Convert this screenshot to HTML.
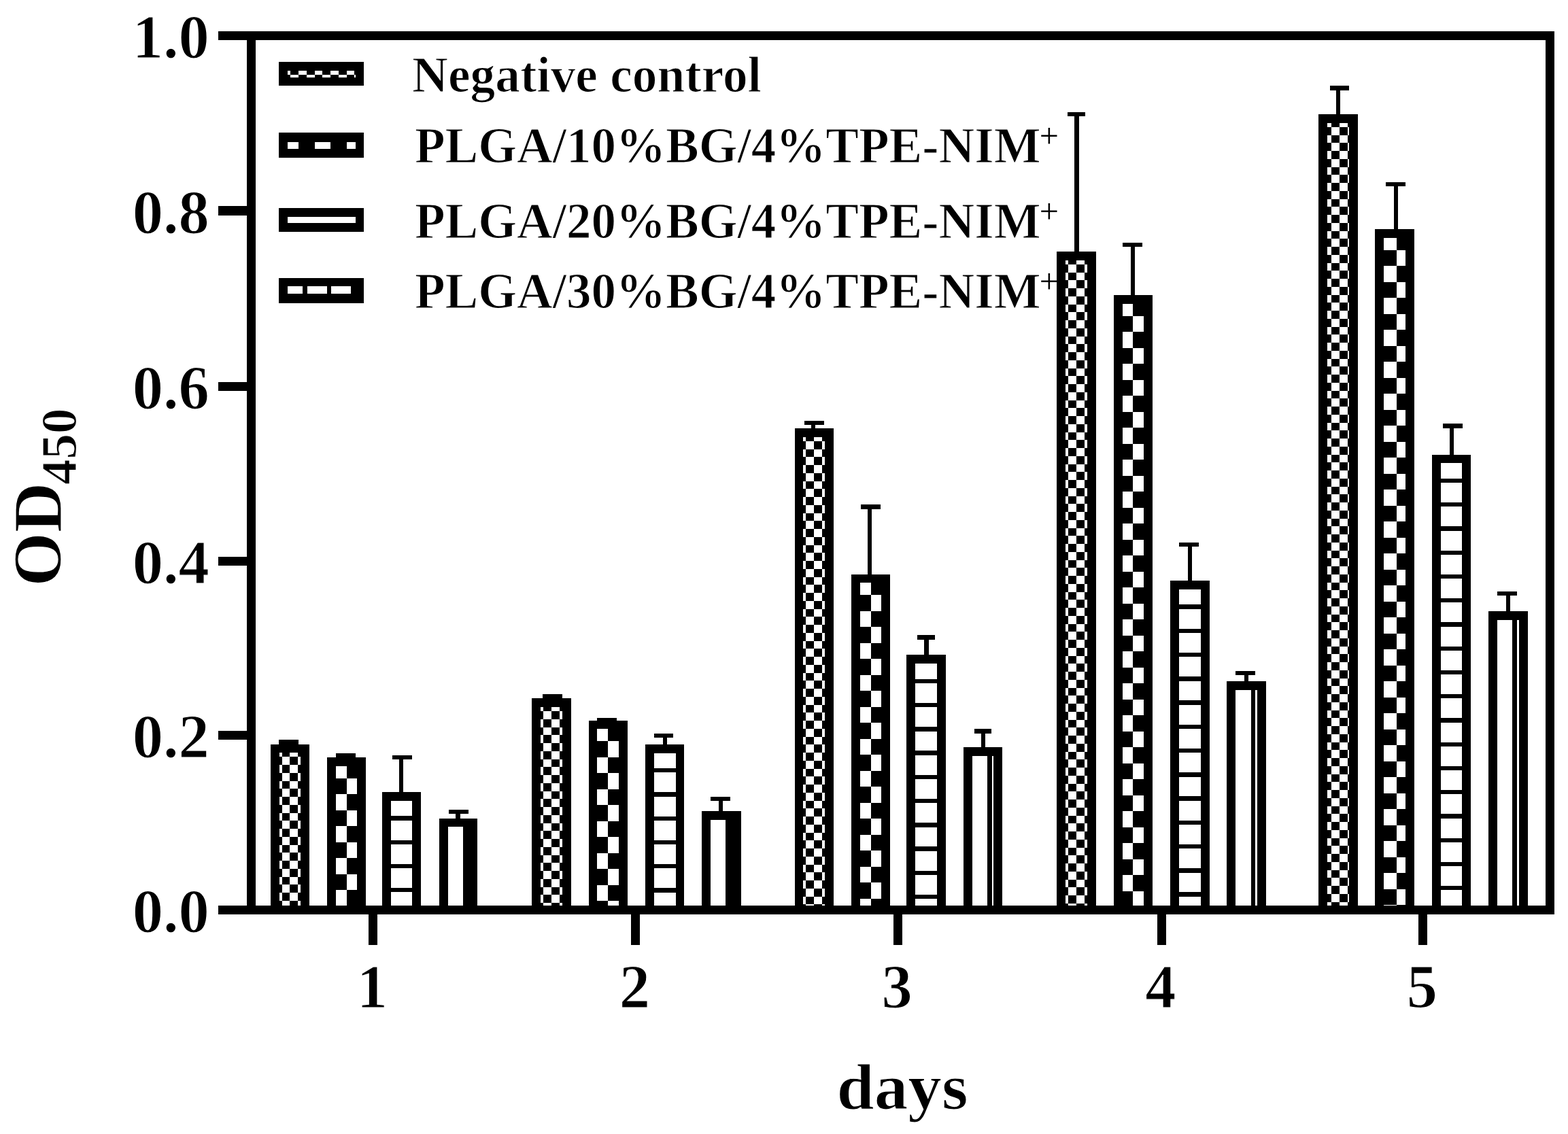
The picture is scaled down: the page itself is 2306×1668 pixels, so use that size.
<!DOCTYPE html>
<html lang="en">
<head>
<meta charset="utf-8">
<title>OD450 vs days</title>
<style>
html,body{margin:0;padding:0;background:#fff;}
body{width:2306px;height:1668px;overflow:hidden;}
svg{display:block;}
text{font-family:"Liberation Serif","DejaVu Serif",serif;font-weight:bold;fill:#000;stroke:#fff;stroke-width:1.2px;paint-order:fill stroke;}
tspan.p{stroke:none;}
</style>
</head>
<body>
<svg width="2306" height="1668" viewBox="0 0 2306 1668" shape-rendering="crispEdges">
<rect width="2306" height="1668" fill="#fff"/>
<g fill="#000">
<rect x="320.7" y="46.3" width="1965.1" height="12.5"/>
<rect x="320.7" y="1332" width="1965.1" height="12.5"/>
<rect x="363" y="46.3" width="13.3" height="1298.2"/>
<rect x="2272.8" y="46.3" width="13" height="1298.2"/>
<rect x="320.7" y="303.4" width="50" height="14"/>
<rect x="320.7" y="562.3" width="50" height="12.6"/>
<rect x="320.7" y="818.9" width="50" height="12.6"/>
<rect x="320.7" y="1075.3" width="50" height="12.6"/>
<rect x="542.2" y="1340" width="12.8" height="49.5"/>
<rect x="928.2" y="1340" width="12.8" height="49.5"/>
<rect x="1313.9" y="1340" width="12.8" height="49.5"/>
<rect x="1701.8" y="1340" width="12.8" height="49.5"/>
<rect x="2086.3" y="1340" width="12.8" height="49.5"/>
<rect x="410.3" y="1088" width="28.7" height="7.6"/>
<rect x="421.45" y="1088" width="6.4" height="8.6"/>
<g>
<rect x="397.9" y="1094.6" width="56.9" height="249.4"/>
<rect x="410.7" y="1107.4" width="31.3" height="224.6" fill="#fff"/>
<path d="M414.6 1107.4h11.75v5.95h-11.75zM438.1 1107.4h3.9v5.95h-3.9zM410.7 1113.35h3.9v11.75h-3.9zM426.35 1113.35h11.75v11.75h-11.75zM414.6 1125.1h11.75v11.75h-11.75zM438.1 1125.1h3.9v11.75h-3.9zM410.7 1136.85h3.9v11.75h-3.9zM426.35 1136.85h11.75v11.75h-11.75zM414.6 1148.6h11.75v11.75h-11.75zM438.1 1148.6h3.9v11.75h-3.9zM410.7 1160.35h3.9v11.75h-3.9zM426.35 1160.35h11.75v11.75h-11.75zM414.6 1172.1h11.75v11.75h-11.75zM438.1 1172.1h3.9v11.75h-3.9zM410.7 1183.85h3.9v11.75h-3.9zM426.35 1183.85h11.75v11.75h-11.75zM414.6 1195.6h11.75v11.75h-11.75zM438.1 1195.6h3.9v11.75h-3.9zM410.7 1207.35h3.9v11.75h-3.9zM426.35 1207.35h11.75v11.75h-11.75zM414.6 1219.1h11.75v11.75h-11.75zM438.1 1219.1h3.9v11.75h-3.9zM410.7 1230.85h3.9v11.75h-3.9zM426.35 1230.85h11.75v11.75h-11.75zM414.6 1242.6h11.75v11.75h-11.75zM438.1 1242.6h3.9v11.75h-3.9zM410.7 1254.35h3.9v11.75h-3.9zM426.35 1254.35h11.75v11.75h-11.75zM414.6 1266.1h11.75v11.75h-11.75zM438.1 1266.1h3.9v11.75h-3.9zM410.7 1277.85h3.9v11.75h-3.9zM426.35 1277.85h11.75v11.75h-11.75zM414.6 1289.6h11.75v11.75h-11.75zM438.1 1289.6h3.9v11.75h-3.9zM410.7 1301.35h3.9v11.75h-3.9zM426.35 1301.35h11.75v11.75h-11.75zM414.6 1313.1h11.75v11.75h-11.75zM438.1 1313.1h3.9v11.75h-3.9zM410.7 1324.85h3.9v7.15h-3.9zM426.35 1324.85h11.75v7.15h-11.75z"/>
</g>
<rect x="493.8" y="1107.7" width="28.7" height="7.5"/>
<rect x="504.95" y="1107.7" width="6.4" height="8.5"/>
<g>
<rect x="481.2" y="1114.2" width="57" height="229.8"/>
<rect x="494" y="1127" width="31.4" height="205" fill="#fff"/>
<path d="M509.7 1127h15.7v17.7h-15.7zM494 1144.7h15.7v23.5h-15.7zM509.7 1168.2h15.7v23.5h-15.7zM494 1191.7h15.7v23.5h-15.7zM509.7 1215.2h15.7v23.5h-15.7zM494 1238.7h15.7v23.5h-15.7zM509.7 1262.2h15.7v23.5h-15.7zM494 1285.7h15.7v23.5h-15.7zM509.7 1309.2h15.7v22.8h-15.7z"/>
</g>
<rect x="576.9" y="1110.7" width="28.7" height="6.4"/>
<rect x="586.9" y="1110.7" width="6.4" height="56.3"/>
<g>
<rect x="562" y="1165" width="57" height="179"/>
<rect x="574.8" y="1177.8" width="31.4" height="154.2" fill="#fff"/>
<path d="M574.8 1200.25h31.4v6.4h-31.4zM574.8 1235.5h31.4v6.4h-31.4zM574.8 1270.75h31.4v6.4h-31.4zM574.8 1306h31.4v6.4h-31.4z"/>
</g>
<rect x="660.4" y="1191" width="28.7" height="6.4"/>
<rect x="670.1" y="1191" width="6.4" height="14.5"/>
<g>
<rect x="646" y="1203.5" width="56.2" height="140.5"/>
<rect x="658.8" y="1216.3" width="30.6" height="115.7" fill="#fff"/>
<path d="M681.25 1216.3h8.15v115.7h-8.15z"/>
</g>
<rect x="798.2" y="1021" width="28.7" height="7.4"/>
<rect x="809.35" y="1021" width="6.4" height="8.4"/>
<g>
<rect x="782" y="1027.4" width="57.6" height="316.6"/>
<rect x="794.8" y="1040.2" width="32" height="291.8" fill="#fff"/>
<path d="M799.05 1040.2h11.75v5.95h-11.75zM822.55 1040.2h4.25v5.95h-4.25zM794.8 1046.15h4.25v11.75h-4.25zM810.8 1046.15h11.75v11.75h-11.75zM799.05 1057.9h11.75v11.75h-11.75zM822.55 1057.9h4.25v11.75h-4.25zM794.8 1069.65h4.25v11.75h-4.25zM810.8 1069.65h11.75v11.75h-11.75zM799.05 1081.4h11.75v11.75h-11.75zM822.55 1081.4h4.25v11.75h-4.25zM794.8 1093.15h4.25v11.75h-4.25zM810.8 1093.15h11.75v11.75h-11.75zM799.05 1104.9h11.75v11.75h-11.75zM822.55 1104.9h4.25v11.75h-4.25zM794.8 1116.65h4.25v11.75h-4.25zM810.8 1116.65h11.75v11.75h-11.75zM799.05 1128.4h11.75v11.75h-11.75zM822.55 1128.4h4.25v11.75h-4.25zM794.8 1140.15h4.25v11.75h-4.25zM810.8 1140.15h11.75v11.75h-11.75zM799.05 1151.9h11.75v11.75h-11.75zM822.55 1151.9h4.25v11.75h-4.25zM794.8 1163.65h4.25v11.75h-4.25zM810.8 1163.65h11.75v11.75h-11.75zM799.05 1175.4h11.75v11.75h-11.75zM822.55 1175.4h4.25v11.75h-4.25zM794.8 1187.15h4.25v11.75h-4.25zM810.8 1187.15h11.75v11.75h-11.75zM799.05 1198.9h11.75v11.75h-11.75zM822.55 1198.9h4.25v11.75h-4.25zM794.8 1210.65h4.25v11.75h-4.25zM810.8 1210.65h11.75v11.75h-11.75zM799.05 1222.4h11.75v11.75h-11.75zM822.55 1222.4h4.25v11.75h-4.25zM794.8 1234.15h4.25v11.75h-4.25zM810.8 1234.15h11.75v11.75h-11.75zM799.05 1245.9h11.75v11.75h-11.75zM822.55 1245.9h4.25v11.75h-4.25zM794.8 1257.65h4.25v11.75h-4.25zM810.8 1257.65h11.75v11.75h-11.75zM799.05 1269.4h11.75v11.75h-11.75zM822.55 1269.4h4.25v11.75h-4.25zM794.8 1281.15h4.25v11.75h-4.25zM810.8 1281.15h11.75v11.75h-11.75zM799.05 1292.9h11.75v11.75h-11.75zM822.55 1292.9h4.25v11.75h-4.25zM794.8 1304.65h4.25v11.75h-4.25zM810.8 1304.65h11.75v11.75h-11.75zM799.05 1316.4h11.75v11.75h-11.75zM822.55 1316.4h4.25v11.75h-4.25zM794.8 1328.15h4.25v3.85h-4.25zM810.8 1328.15h11.75v3.85h-11.75z"/>
</g>
<rect x="878.4" y="1056.2" width="28.7" height="6.4"/>
<rect x="889.55" y="1056.2" width="6.4" height="5.3"/>
<g>
<rect x="865.5" y="1059.5" width="57.4" height="284.5"/>
<rect x="878.3" y="1072.3" width="31.8" height="259.7" fill="#fff"/>
<path d="M894.2 1072.3h15.9v17.7h-15.9zM878.3 1090h15.9v23.5h-15.9zM894.2 1113.5h15.9v23.5h-15.9zM878.3 1137h15.9v23.5h-15.9zM894.2 1160.5h15.9v23.5h-15.9zM878.3 1184h15.9v23.5h-15.9zM894.2 1207.5h15.9v23.5h-15.9zM878.3 1231h15.9v23.5h-15.9zM894.2 1254.5h15.9v23.5h-15.9zM878.3 1278h15.9v23.5h-15.9zM894.2 1301.5h15.9v23.5h-15.9zM878.3 1325h15.9v7h-15.9z"/>
</g>
<rect x="961.6" y="1078.7" width="28.7" height="6.4"/>
<rect x="974.7" y="1078.7" width="6.4" height="18.1"/>
<g>
<rect x="949" y="1094.8" width="57.4" height="249.2"/>
<rect x="961.8" y="1107.6" width="31.8" height="224.4" fill="#fff"/>
<path d="M961.8 1130.05h31.8v6.4h-31.8zM961.8 1165.3h31.8v6.4h-31.8zM961.8 1200.55h31.8v6.4h-31.8zM961.8 1235.8h31.8v6.4h-31.8zM961.8 1271.05h31.8v6.4h-31.8zM961.8 1306.3h31.8v6.4h-31.8z"/>
</g>
<rect x="1044.8" y="1171.7" width="28.7" height="6.4"/>
<rect x="1056.5" y="1171.7" width="6.4" height="23.3"/>
<g>
<rect x="1032.1" y="1193" width="57.4" height="151"/>
<rect x="1044.9" y="1205.8" width="31.8" height="126.2" fill="#fff"/>
<path d="M1067.35 1205.8h9.35v126.2h-9.35z"/>
</g>
<rect x="1183" y="618.8" width="28.7" height="6.4"/>
<rect x="1192.5" y="618.8" width="6.4" height="13.2"/>
<g>
<rect x="1168.5" y="630" width="57.3" height="714"/>
<rect x="1181.3" y="642.8" width="31.7" height="689.2" fill="#fff"/>
<path d="M1185.4 642.8h11.75v5.95h-11.75zM1208.9 642.8h4.1v5.95h-4.1zM1181.3 648.75h4.1v11.75h-4.1zM1197.15 648.75h11.75v11.75h-11.75zM1185.4 660.5h11.75v11.75h-11.75zM1208.9 660.5h4.1v11.75h-4.1zM1181.3 672.25h4.1v11.75h-4.1zM1197.15 672.25h11.75v11.75h-11.75zM1185.4 684h11.75v11.75h-11.75zM1208.9 684h4.1v11.75h-4.1zM1181.3 695.75h4.1v11.75h-4.1zM1197.15 695.75h11.75v11.75h-11.75zM1185.4 707.5h11.75v11.75h-11.75zM1208.9 707.5h4.1v11.75h-4.1zM1181.3 719.25h4.1v11.75h-4.1zM1197.15 719.25h11.75v11.75h-11.75zM1185.4 731h11.75v11.75h-11.75zM1208.9 731h4.1v11.75h-4.1zM1181.3 742.75h4.1v11.75h-4.1zM1197.15 742.75h11.75v11.75h-11.75zM1185.4 754.5h11.75v11.75h-11.75zM1208.9 754.5h4.1v11.75h-4.1zM1181.3 766.25h4.1v11.75h-4.1zM1197.15 766.25h11.75v11.75h-11.75zM1185.4 778h11.75v11.75h-11.75zM1208.9 778h4.1v11.75h-4.1zM1181.3 789.75h4.1v11.75h-4.1zM1197.15 789.75h11.75v11.75h-11.75zM1185.4 801.5h11.75v11.75h-11.75zM1208.9 801.5h4.1v11.75h-4.1zM1181.3 813.25h4.1v11.75h-4.1zM1197.15 813.25h11.75v11.75h-11.75zM1185.4 825h11.75v11.75h-11.75zM1208.9 825h4.1v11.75h-4.1zM1181.3 836.75h4.1v11.75h-4.1zM1197.15 836.75h11.75v11.75h-11.75zM1185.4 848.5h11.75v11.75h-11.75zM1208.9 848.5h4.1v11.75h-4.1zM1181.3 860.25h4.1v11.75h-4.1zM1197.15 860.25h11.75v11.75h-11.75zM1185.4 872h11.75v11.75h-11.75zM1208.9 872h4.1v11.75h-4.1zM1181.3 883.75h4.1v11.75h-4.1zM1197.15 883.75h11.75v11.75h-11.75zM1185.4 895.5h11.75v11.75h-11.75zM1208.9 895.5h4.1v11.75h-4.1zM1181.3 907.25h4.1v11.75h-4.1zM1197.15 907.25h11.75v11.75h-11.75zM1185.4 919h11.75v11.75h-11.75zM1208.9 919h4.1v11.75h-4.1zM1181.3 930.75h4.1v11.75h-4.1zM1197.15 930.75h11.75v11.75h-11.75zM1185.4 942.5h11.75v11.75h-11.75zM1208.9 942.5h4.1v11.75h-4.1zM1181.3 954.25h4.1v11.75h-4.1zM1197.15 954.25h11.75v11.75h-11.75zM1185.4 966h11.75v11.75h-11.75zM1208.9 966h4.1v11.75h-4.1zM1181.3 977.75h4.1v11.75h-4.1zM1197.15 977.75h11.75v11.75h-11.75zM1185.4 989.5h11.75v11.75h-11.75zM1208.9 989.5h4.1v11.75h-4.1zM1181.3 1001.25h4.1v11.75h-4.1zM1197.15 1001.25h11.75v11.75h-11.75zM1185.4 1013h11.75v11.75h-11.75zM1208.9 1013h4.1v11.75h-4.1zM1181.3 1024.75h4.1v11.75h-4.1zM1197.15 1024.75h11.75v11.75h-11.75zM1185.4 1036.5h11.75v11.75h-11.75zM1208.9 1036.5h4.1v11.75h-4.1zM1181.3 1048.25h4.1v11.75h-4.1zM1197.15 1048.25h11.75v11.75h-11.75zM1185.4 1060h11.75v11.75h-11.75zM1208.9 1060h4.1v11.75h-4.1zM1181.3 1071.75h4.1v11.75h-4.1zM1197.15 1071.75h11.75v11.75h-11.75zM1185.4 1083.5h11.75v11.75h-11.75zM1208.9 1083.5h4.1v11.75h-4.1zM1181.3 1095.25h4.1v11.75h-4.1zM1197.15 1095.25h11.75v11.75h-11.75zM1185.4 1107h11.75v11.75h-11.75zM1208.9 1107h4.1v11.75h-4.1zM1181.3 1118.75h4.1v11.75h-4.1zM1197.15 1118.75h11.75v11.75h-11.75zM1185.4 1130.5h11.75v11.75h-11.75zM1208.9 1130.5h4.1v11.75h-4.1zM1181.3 1142.25h4.1v11.75h-4.1zM1197.15 1142.25h11.75v11.75h-11.75zM1185.4 1154h11.75v11.75h-11.75zM1208.9 1154h4.1v11.75h-4.1zM1181.3 1165.75h4.1v11.75h-4.1zM1197.15 1165.75h11.75v11.75h-11.75zM1185.4 1177.5h11.75v11.75h-11.75zM1208.9 1177.5h4.1v11.75h-4.1zM1181.3 1189.25h4.1v11.75h-4.1zM1197.15 1189.25h11.75v11.75h-11.75zM1185.4 1201h11.75v11.75h-11.75zM1208.9 1201h4.1v11.75h-4.1zM1181.3 1212.75h4.1v11.75h-4.1zM1197.15 1212.75h11.75v11.75h-11.75zM1185.4 1224.5h11.75v11.75h-11.75zM1208.9 1224.5h4.1v11.75h-4.1zM1181.3 1236.25h4.1v11.75h-4.1zM1197.15 1236.25h11.75v11.75h-11.75zM1185.4 1248h11.75v11.75h-11.75zM1208.9 1248h4.1v11.75h-4.1zM1181.3 1259.75h4.1v11.75h-4.1zM1197.15 1259.75h11.75v11.75h-11.75zM1185.4 1271.5h11.75v11.75h-11.75zM1208.9 1271.5h4.1v11.75h-4.1zM1181.3 1283.25h4.1v11.75h-4.1zM1197.15 1283.25h11.75v11.75h-11.75zM1185.4 1295h11.75v11.75h-11.75zM1208.9 1295h4.1v11.75h-4.1zM1181.3 1306.75h4.1v11.75h-4.1zM1197.15 1306.75h11.75v11.75h-11.75zM1185.4 1318.5h11.75v11.75h-11.75zM1208.9 1318.5h4.1v11.75h-4.1zM1181.3 1330.25h4.1v1.75h-4.1zM1197.15 1330.25h11.75v1.75h-11.75z"/>
</g>
<rect x="1266" y="742.1" width="28.7" height="6.4"/>
<rect x="1275.7" y="742.1" width="6.4" height="104.5"/>
<g>
<rect x="1252" y="844.6" width="57.2" height="499.4"/>
<rect x="1264.8" y="857.4" width="31.6" height="474.6" fill="#fff"/>
<path d="M1280.6 857.4h15.8v17.7h-15.8zM1264.8 875.1h15.8v23.5h-15.8zM1280.6 898.6h15.8v23.5h-15.8zM1264.8 922.1h15.8v23.5h-15.8zM1280.6 945.6h15.8v23.5h-15.8zM1264.8 969.1h15.8v23.5h-15.8zM1280.6 992.6h15.8v23.5h-15.8zM1264.8 1016.1h15.8v23.5h-15.8zM1280.6 1039.6h15.8v23.5h-15.8zM1264.8 1063.1h15.8v23.5h-15.8zM1280.6 1086.6h15.8v23.5h-15.8zM1264.8 1110.1h15.8v23.5h-15.8zM1280.6 1133.6h15.8v23.5h-15.8zM1264.8 1157.1h15.8v23.5h-15.8zM1280.6 1180.6h15.8v23.5h-15.8zM1264.8 1204.1h15.8v23.5h-15.8zM1280.6 1227.6h15.8v23.5h-15.8zM1264.8 1251.1h15.8v23.5h-15.8zM1280.6 1274.6h15.8v23.5h-15.8zM1264.8 1298.1h15.8v23.5h-15.8zM1280.6 1321.6h15.8v10.4h-15.8z"/>
</g>
<rect x="1349.1" y="934.4" width="26.3" height="6.4"/>
<rect x="1359.2" y="934.4" width="6.4" height="31"/>
<g>
<rect x="1333.4" y="963.4" width="57.4" height="380.6"/>
<rect x="1346.2" y="976.2" width="31.8" height="355.8" fill="#fff"/>
<path d="M1346.2 998.65h31.8v6.4h-31.8zM1346.2 1033.9h31.8v6.4h-31.8zM1346.2 1069.15h31.8v6.4h-31.8zM1346.2 1104.4h31.8v6.4h-31.8zM1346.2 1139.65h31.8v6.4h-31.8zM1346.2 1174.9h31.8v6.4h-31.8zM1346.2 1210.15h31.8v6.4h-31.8zM1346.2 1245.4h31.8v6.4h-31.8zM1346.2 1280.65h31.8v6.4h-31.8zM1346.2 1315.9h31.8v6.4h-31.8z"/>
</g>
<rect x="1432.8" y="1072.3" width="25.3" height="6.4"/>
<rect x="1442.5" y="1072.3" width="6.4" height="29.1"/>
<g>
<rect x="1416.9" y="1099.4" width="57.1" height="244.6"/>
<rect x="1429.7" y="1112.2" width="31.5" height="219.8" fill="#fff"/>
<path d="M1452.15 1112.2h6.4v219.8h-6.4z"/>
</g>
<rect x="1570.4" y="164.8" width="25.6" height="6.4"/>
<rect x="1580.1" y="164.8" width="6.4" height="207.4"/>
<g>
<rect x="1554.4" y="370.2" width="57.4" height="973.8"/>
<rect x="1567.2" y="383" width="31.8" height="949" fill="#fff"/>
<path d="M1571.35 383h11.75v5.95h-11.75zM1594.85 383h4.15v5.95h-4.15zM1567.2 388.95h4.15v11.75h-4.15zM1583.1 388.95h11.75v11.75h-11.75zM1571.35 400.7h11.75v11.75h-11.75zM1594.85 400.7h4.15v11.75h-4.15zM1567.2 412.45h4.15v11.75h-4.15zM1583.1 412.45h11.75v11.75h-11.75zM1571.35 424.2h11.75v11.75h-11.75zM1594.85 424.2h4.15v11.75h-4.15zM1567.2 435.95h4.15v11.75h-4.15zM1583.1 435.95h11.75v11.75h-11.75zM1571.35 447.7h11.75v11.75h-11.75zM1594.85 447.7h4.15v11.75h-4.15zM1567.2 459.45h4.15v11.75h-4.15zM1583.1 459.45h11.75v11.75h-11.75zM1571.35 471.2h11.75v11.75h-11.75zM1594.85 471.2h4.15v11.75h-4.15zM1567.2 482.95h4.15v11.75h-4.15zM1583.1 482.95h11.75v11.75h-11.75zM1571.35 494.7h11.75v11.75h-11.75zM1594.85 494.7h4.15v11.75h-4.15zM1567.2 506.45h4.15v11.75h-4.15zM1583.1 506.45h11.75v11.75h-11.75zM1571.35 518.2h11.75v11.75h-11.75zM1594.85 518.2h4.15v11.75h-4.15zM1567.2 529.95h4.15v11.75h-4.15zM1583.1 529.95h11.75v11.75h-11.75zM1571.35 541.7h11.75v11.75h-11.75zM1594.85 541.7h4.15v11.75h-4.15zM1567.2 553.45h4.15v11.75h-4.15zM1583.1 553.45h11.75v11.75h-11.75zM1571.35 565.2h11.75v11.75h-11.75zM1594.85 565.2h4.15v11.75h-4.15zM1567.2 576.95h4.15v11.75h-4.15zM1583.1 576.95h11.75v11.75h-11.75zM1571.35 588.7h11.75v11.75h-11.75zM1594.85 588.7h4.15v11.75h-4.15zM1567.2 600.45h4.15v11.75h-4.15zM1583.1 600.45h11.75v11.75h-11.75zM1571.35 612.2h11.75v11.75h-11.75zM1594.85 612.2h4.15v11.75h-4.15zM1567.2 623.95h4.15v11.75h-4.15zM1583.1 623.95h11.75v11.75h-11.75zM1571.35 635.7h11.75v11.75h-11.75zM1594.85 635.7h4.15v11.75h-4.15zM1567.2 647.45h4.15v11.75h-4.15zM1583.1 647.45h11.75v11.75h-11.75zM1571.35 659.2h11.75v11.75h-11.75zM1594.85 659.2h4.15v11.75h-4.15zM1567.2 670.95h4.15v11.75h-4.15zM1583.1 670.95h11.75v11.75h-11.75zM1571.35 682.7h11.75v11.75h-11.75zM1594.85 682.7h4.15v11.75h-4.15zM1567.2 694.45h4.15v11.75h-4.15zM1583.1 694.45h11.75v11.75h-11.75zM1571.35 706.2h11.75v11.75h-11.75zM1594.85 706.2h4.15v11.75h-4.15zM1567.2 717.95h4.15v11.75h-4.15zM1583.1 717.95h11.75v11.75h-11.75zM1571.35 729.7h11.75v11.75h-11.75zM1594.85 729.7h4.15v11.75h-4.15zM1567.2 741.45h4.15v11.75h-4.15zM1583.1 741.45h11.75v11.75h-11.75zM1571.35 753.2h11.75v11.75h-11.75zM1594.85 753.2h4.15v11.75h-4.15zM1567.2 764.95h4.15v11.75h-4.15zM1583.1 764.95h11.75v11.75h-11.75zM1571.35 776.7h11.75v11.75h-11.75zM1594.85 776.7h4.15v11.75h-4.15zM1567.2 788.45h4.15v11.75h-4.15zM1583.1 788.45h11.75v11.75h-11.75zM1571.35 800.2h11.75v11.75h-11.75zM1594.85 800.2h4.15v11.75h-4.15zM1567.2 811.95h4.15v11.75h-4.15zM1583.1 811.95h11.75v11.75h-11.75zM1571.35 823.7h11.75v11.75h-11.75zM1594.85 823.7h4.15v11.75h-4.15zM1567.2 835.45h4.15v11.75h-4.15zM1583.1 835.45h11.75v11.75h-11.75zM1571.35 847.2h11.75v11.75h-11.75zM1594.85 847.2h4.15v11.75h-4.15zM1567.2 858.95h4.15v11.75h-4.15zM1583.1 858.95h11.75v11.75h-11.75zM1571.35 870.7h11.75v11.75h-11.75zM1594.85 870.7h4.15v11.75h-4.15zM1567.2 882.45h4.15v11.75h-4.15zM1583.1 882.45h11.75v11.75h-11.75zM1571.35 894.2h11.75v11.75h-11.75zM1594.85 894.2h4.15v11.75h-4.15zM1567.2 905.95h4.15v11.75h-4.15zM1583.1 905.95h11.75v11.75h-11.75zM1571.35 917.7h11.75v11.75h-11.75zM1594.85 917.7h4.15v11.75h-4.15zM1567.2 929.45h4.15v11.75h-4.15zM1583.1 929.45h11.75v11.75h-11.75zM1571.35 941.2h11.75v11.75h-11.75zM1594.85 941.2h4.15v11.75h-4.15zM1567.2 952.95h4.15v11.75h-4.15zM1583.1 952.95h11.75v11.75h-11.75zM1571.35 964.7h11.75v11.75h-11.75zM1594.85 964.7h4.15v11.75h-4.15zM1567.2 976.45h4.15v11.75h-4.15zM1583.1 976.45h11.75v11.75h-11.75zM1571.35 988.2h11.75v11.75h-11.75zM1594.85 988.2h4.15v11.75h-4.15zM1567.2 999.95h4.15v11.75h-4.15zM1583.1 999.95h11.75v11.75h-11.75zM1571.35 1011.7h11.75v11.75h-11.75zM1594.85 1011.7h4.15v11.75h-4.15zM1567.2 1023.45h4.15v11.75h-4.15zM1583.1 1023.45h11.75v11.75h-11.75zM1571.35 1035.2h11.75v11.75h-11.75zM1594.85 1035.2h4.15v11.75h-4.15zM1567.2 1046.95h4.15v11.75h-4.15zM1583.1 1046.95h11.75v11.75h-11.75zM1571.35 1058.7h11.75v11.75h-11.75zM1594.85 1058.7h4.15v11.75h-4.15zM1567.2 1070.45h4.15v11.75h-4.15zM1583.1 1070.45h11.75v11.75h-11.75zM1571.35 1082.2h11.75v11.75h-11.75zM1594.85 1082.2h4.15v11.75h-4.15zM1567.2 1093.95h4.15v11.75h-4.15zM1583.1 1093.95h11.75v11.75h-11.75zM1571.35 1105.7h11.75v11.75h-11.75zM1594.85 1105.7h4.15v11.75h-4.15zM1567.2 1117.45h4.15v11.75h-4.15zM1583.1 1117.45h11.75v11.75h-11.75zM1571.35 1129.2h11.75v11.75h-11.75zM1594.85 1129.2h4.15v11.75h-4.15zM1567.2 1140.95h4.15v11.75h-4.15zM1583.1 1140.95h11.75v11.75h-11.75zM1571.35 1152.7h11.75v11.75h-11.75zM1594.85 1152.7h4.15v11.75h-4.15zM1567.2 1164.45h4.15v11.75h-4.15zM1583.1 1164.45h11.75v11.75h-11.75zM1571.35 1176.2h11.75v11.75h-11.75zM1594.85 1176.2h4.15v11.75h-4.15zM1567.2 1187.95h4.15v11.75h-4.15zM1583.1 1187.95h11.75v11.75h-11.75zM1571.35 1199.7h11.75v11.75h-11.75zM1594.85 1199.7h4.15v11.75h-4.15zM1567.2 1211.45h4.15v11.75h-4.15zM1583.1 1211.45h11.75v11.75h-11.75zM1571.35 1223.2h11.75v11.75h-11.75zM1594.85 1223.2h4.15v11.75h-4.15zM1567.2 1234.95h4.15v11.75h-4.15zM1583.1 1234.95h11.75v11.75h-11.75zM1571.35 1246.7h11.75v11.75h-11.75zM1594.85 1246.7h4.15v11.75h-4.15zM1567.2 1258.45h4.15v11.75h-4.15zM1583.1 1258.45h11.75v11.75h-11.75zM1571.35 1270.2h11.75v11.75h-11.75zM1594.85 1270.2h4.15v11.75h-4.15zM1567.2 1281.95h4.15v11.75h-4.15zM1583.1 1281.95h11.75v11.75h-11.75zM1571.35 1293.7h11.75v11.75h-11.75zM1594.85 1293.7h4.15v11.75h-4.15zM1567.2 1305.45h4.15v11.75h-4.15zM1583.1 1305.45h11.75v11.75h-11.75zM1571.35 1317.2h11.75v11.75h-11.75zM1594.85 1317.2h4.15v11.75h-4.15zM1567.2 1328.95h4.15v3.05h-4.15zM1583.1 1328.95h11.75v3.05h-11.75z"/>
</g>
<rect x="1650.8" y="357" width="28.7" height="6.4"/>
<rect x="1662.5" y="357" width="6.4" height="79.3"/>
<g>
<rect x="1637.9" y="434.3" width="56.9" height="909.7"/>
<rect x="1650.7" y="447.1" width="31.3" height="884.9" fill="#fff"/>
<path d="M1666.35 447.1h15.65v17.7h-15.65zM1650.7 464.8h15.65v23.5h-15.65zM1666.35 488.3h15.65v23.5h-15.65zM1650.7 511.8h15.65v23.5h-15.65zM1666.35 535.3h15.65v23.5h-15.65zM1650.7 558.8h15.65v23.5h-15.65zM1666.35 582.3h15.65v23.5h-15.65zM1650.7 605.8h15.65v23.5h-15.65zM1666.35 629.3h15.65v23.5h-15.65zM1650.7 652.8h15.65v23.5h-15.65zM1666.35 676.3h15.65v23.5h-15.65zM1650.7 699.8h15.65v23.5h-15.65zM1666.35 723.3h15.65v23.5h-15.65zM1650.7 746.8h15.65v23.5h-15.65zM1666.35 770.3h15.65v23.5h-15.65zM1650.7 793.8h15.65v23.5h-15.65zM1666.35 817.3h15.65v23.5h-15.65zM1650.7 840.8h15.65v23.5h-15.65zM1666.35 864.3h15.65v23.5h-15.65zM1650.7 887.8h15.65v23.5h-15.65zM1666.35 911.3h15.65v23.5h-15.65zM1650.7 934.8h15.65v23.5h-15.65zM1666.35 958.3h15.65v23.5h-15.65zM1650.7 981.8h15.65v23.5h-15.65zM1666.35 1005.3h15.65v23.5h-15.65zM1650.7 1028.8h15.65v23.5h-15.65zM1666.35 1052.3h15.65v23.5h-15.65zM1650.7 1075.8h15.65v23.5h-15.65zM1666.35 1099.3h15.65v23.5h-15.65zM1650.7 1122.8h15.65v23.5h-15.65zM1666.35 1146.3h15.65v23.5h-15.65zM1650.7 1169.8h15.65v23.5h-15.65zM1666.35 1193.3h15.65v23.5h-15.65zM1650.7 1216.8h15.65v23.5h-15.65zM1666.35 1240.3h15.65v23.5h-15.65zM1650.7 1263.8h15.65v23.5h-15.65zM1666.35 1287.3h15.65v23.5h-15.65zM1650.7 1310.8h15.65v21.2h-15.65z"/>
</g>
<rect x="1733.9" y="798" width="28.7" height="6.4"/>
<rect x="1747" y="798" width="6.4" height="58.2"/>
<g>
<rect x="1721" y="854.2" width="57.6" height="489.8"/>
<rect x="1733.8" y="867" width="32" height="465" fill="#fff"/>
<path d="M1733.8 889.45h32v6.4h-32zM1733.8 924.7h32v6.4h-32zM1733.8 959.95h32v6.4h-32zM1733.8 995.2h32v6.4h-32zM1733.8 1030.45h32v6.4h-32zM1733.8 1065.7h32v6.4h-32zM1733.8 1100.95h32v6.4h-32zM1733.8 1136.2h32v6.4h-32zM1733.8 1171.45h32v6.4h-32zM1733.8 1206.7h32v6.4h-32zM1733.8 1241.95h32v6.4h-32zM1733.8 1277.2h32v6.4h-32zM1733.8 1312.45h32v6.4h-32z"/>
</g>
<rect x="1817.3" y="987" width="28.7" height="6.4"/>
<rect x="1829.9" y="987" width="6.4" height="16.7"/>
<g>
<rect x="1804.3" y="1001.7" width="57.5" height="342.3"/>
<rect x="1817.1" y="1014.5" width="31.9" height="317.5" fill="#fff"/>
<path d="M1839.55 1014.5h6.4v317.5h-6.4z"/>
</g>
<rect x="1955.6" y="126.2" width="28.7" height="6.4"/>
<rect x="1964.8" y="126.2" width="6.4" height="43.9"/>
<g>
<rect x="1939.3" y="168.1" width="57.2" height="1175.9"/>
<rect x="1952.1" y="180.9" width="31.6" height="1151.1" fill="#fff"/>
<path d="M1958.15 180.9h11.75v5.95h-11.75zM1981.65 180.9h2.05v5.95h-2.05zM1952.1 186.85h6.05v11.75h-6.05zM1969.9 186.85h11.75v11.75h-11.75zM1958.15 198.6h11.75v11.75h-11.75zM1981.65 198.6h2.05v11.75h-2.05zM1952.1 210.35h6.05v11.75h-6.05zM1969.9 210.35h11.75v11.75h-11.75zM1958.15 222.1h11.75v11.75h-11.75zM1981.65 222.1h2.05v11.75h-2.05zM1952.1 233.85h6.05v11.75h-6.05zM1969.9 233.85h11.75v11.75h-11.75zM1958.15 245.6h11.75v11.75h-11.75zM1981.65 245.6h2.05v11.75h-2.05zM1952.1 257.35h6.05v11.75h-6.05zM1969.9 257.35h11.75v11.75h-11.75zM1958.15 269.1h11.75v11.75h-11.75zM1981.65 269.1h2.05v11.75h-2.05zM1952.1 280.85h6.05v11.75h-6.05zM1969.9 280.85h11.75v11.75h-11.75zM1958.15 292.6h11.75v11.75h-11.75zM1981.65 292.6h2.05v11.75h-2.05zM1952.1 304.35h6.05v11.75h-6.05zM1969.9 304.35h11.75v11.75h-11.75zM1958.15 316.1h11.75v11.75h-11.75zM1981.65 316.1h2.05v11.75h-2.05zM1952.1 327.85h6.05v11.75h-6.05zM1969.9 327.85h11.75v11.75h-11.75zM1958.15 339.6h11.75v11.75h-11.75zM1981.65 339.6h2.05v11.75h-2.05zM1952.1 351.35h6.05v11.75h-6.05zM1969.9 351.35h11.75v11.75h-11.75zM1958.15 363.1h11.75v11.75h-11.75zM1981.65 363.1h2.05v11.75h-2.05zM1952.1 374.85h6.05v11.75h-6.05zM1969.9 374.85h11.75v11.75h-11.75zM1958.15 386.6h11.75v11.75h-11.75zM1981.65 386.6h2.05v11.75h-2.05zM1952.1 398.35h6.05v11.75h-6.05zM1969.9 398.35h11.75v11.75h-11.75zM1958.15 410.1h11.75v11.75h-11.75zM1981.65 410.1h2.05v11.75h-2.05zM1952.1 421.85h6.05v11.75h-6.05zM1969.9 421.85h11.75v11.75h-11.75zM1958.15 433.6h11.75v11.75h-11.75zM1981.65 433.6h2.05v11.75h-2.05zM1952.1 445.35h6.05v11.75h-6.05zM1969.9 445.35h11.75v11.75h-11.75zM1958.15 457.1h11.75v11.75h-11.75zM1981.65 457.1h2.05v11.75h-2.05zM1952.1 468.85h6.05v11.75h-6.05zM1969.9 468.85h11.75v11.75h-11.75zM1958.15 480.6h11.75v11.75h-11.75zM1981.65 480.6h2.05v11.75h-2.05zM1952.1 492.35h6.05v11.75h-6.05zM1969.9 492.35h11.75v11.75h-11.75zM1958.15 504.1h11.75v11.75h-11.75zM1981.65 504.1h2.05v11.75h-2.05zM1952.1 515.85h6.05v11.75h-6.05zM1969.9 515.85h11.75v11.75h-11.75zM1958.15 527.6h11.75v11.75h-11.75zM1981.65 527.6h2.05v11.75h-2.05zM1952.1 539.35h6.05v11.75h-6.05zM1969.9 539.35h11.75v11.75h-11.75zM1958.15 551.1h11.75v11.75h-11.75zM1981.65 551.1h2.05v11.75h-2.05zM1952.1 562.85h6.05v11.75h-6.05zM1969.9 562.85h11.75v11.75h-11.75zM1958.15 574.6h11.75v11.75h-11.75zM1981.65 574.6h2.05v11.75h-2.05zM1952.1 586.35h6.05v11.75h-6.05zM1969.9 586.35h11.75v11.75h-11.75zM1958.15 598.1h11.75v11.75h-11.75zM1981.65 598.1h2.05v11.75h-2.05zM1952.1 609.85h6.05v11.75h-6.05zM1969.9 609.85h11.75v11.75h-11.75zM1958.15 621.6h11.75v11.75h-11.75zM1981.65 621.6h2.05v11.75h-2.05zM1952.1 633.35h6.05v11.75h-6.05zM1969.9 633.35h11.75v11.75h-11.75zM1958.15 645.1h11.75v11.75h-11.75zM1981.65 645.1h2.05v11.75h-2.05zM1952.1 656.85h6.05v11.75h-6.05zM1969.9 656.85h11.75v11.75h-11.75zM1958.15 668.6h11.75v11.75h-11.75zM1981.65 668.6h2.05v11.75h-2.05zM1952.1 680.35h6.05v11.75h-6.05zM1969.9 680.35h11.75v11.75h-11.75zM1958.15 692.1h11.75v11.75h-11.75zM1981.65 692.1h2.05v11.75h-2.05zM1952.1 703.85h6.05v11.75h-6.05zM1969.9 703.85h11.75v11.75h-11.75zM1958.15 715.6h11.75v11.75h-11.75zM1981.65 715.6h2.05v11.75h-2.05zM1952.1 727.35h6.05v11.75h-6.05zM1969.9 727.35h11.75v11.75h-11.75zM1958.15 739.1h11.75v11.75h-11.75zM1981.65 739.1h2.05v11.75h-2.05zM1952.1 750.85h6.05v11.75h-6.05zM1969.9 750.85h11.75v11.75h-11.75zM1958.15 762.6h11.75v11.75h-11.75zM1981.65 762.6h2.05v11.75h-2.05zM1952.1 774.35h6.05v11.75h-6.05zM1969.9 774.35h11.75v11.75h-11.75zM1958.15 786.1h11.75v11.75h-11.75zM1981.65 786.1h2.05v11.75h-2.05zM1952.1 797.85h6.05v11.75h-6.05zM1969.9 797.85h11.75v11.75h-11.75zM1958.15 809.6h11.75v11.75h-11.75zM1981.65 809.6h2.05v11.75h-2.05zM1952.1 821.35h6.05v11.75h-6.05zM1969.9 821.35h11.75v11.75h-11.75zM1958.15 833.1h11.75v11.75h-11.75zM1981.65 833.1h2.05v11.75h-2.05zM1952.1 844.85h6.05v11.75h-6.05zM1969.9 844.85h11.75v11.75h-11.75zM1958.15 856.6h11.75v11.75h-11.75zM1981.65 856.6h2.05v11.75h-2.05zM1952.1 868.35h6.05v11.75h-6.05zM1969.9 868.35h11.75v11.75h-11.75zM1958.15 880.1h11.75v11.75h-11.75zM1981.65 880.1h2.05v11.75h-2.05zM1952.1 891.85h6.05v11.75h-6.05zM1969.9 891.85h11.75v11.75h-11.75zM1958.15 903.6h11.75v11.75h-11.75zM1981.65 903.6h2.05v11.75h-2.05zM1952.1 915.35h6.05v11.75h-6.05zM1969.9 915.35h11.75v11.75h-11.75zM1958.15 927.1h11.75v11.75h-11.75zM1981.65 927.1h2.05v11.75h-2.05zM1952.1 938.85h6.05v11.75h-6.05zM1969.9 938.85h11.75v11.75h-11.75zM1958.15 950.6h11.75v11.75h-11.75zM1981.65 950.6h2.05v11.75h-2.05zM1952.1 962.35h6.05v11.75h-6.05zM1969.9 962.35h11.75v11.75h-11.75zM1958.15 974.1h11.75v11.75h-11.75zM1981.65 974.1h2.05v11.75h-2.05zM1952.1 985.85h6.05v11.75h-6.05zM1969.9 985.85h11.75v11.75h-11.75zM1958.15 997.6h11.75v11.75h-11.75zM1981.65 997.6h2.05v11.75h-2.05zM1952.1 1009.35h6.05v11.75h-6.05zM1969.9 1009.35h11.75v11.75h-11.75zM1958.15 1021.1h11.75v11.75h-11.75zM1981.65 1021.1h2.05v11.75h-2.05zM1952.1 1032.85h6.05v11.75h-6.05zM1969.9 1032.85h11.75v11.75h-11.75zM1958.15 1044.6h11.75v11.75h-11.75zM1981.65 1044.6h2.05v11.75h-2.05zM1952.1 1056.35h6.05v11.75h-6.05zM1969.9 1056.35h11.75v11.75h-11.75zM1958.15 1068.1h11.75v11.75h-11.75zM1981.65 1068.1h2.05v11.75h-2.05zM1952.1 1079.85h6.05v11.75h-6.05zM1969.9 1079.85h11.75v11.75h-11.75zM1958.15 1091.6h11.75v11.75h-11.75zM1981.65 1091.6h2.05v11.75h-2.05zM1952.1 1103.35h6.05v11.75h-6.05zM1969.9 1103.35h11.75v11.75h-11.75zM1958.15 1115.1h11.75v11.75h-11.75zM1981.65 1115.1h2.05v11.75h-2.05zM1952.1 1126.85h6.05v11.75h-6.05zM1969.9 1126.85h11.75v11.75h-11.75zM1958.15 1138.6h11.75v11.75h-11.75zM1981.65 1138.6h2.05v11.75h-2.05zM1952.1 1150.35h6.05v11.75h-6.05zM1969.9 1150.35h11.75v11.75h-11.75zM1958.15 1162.1h11.75v11.75h-11.75zM1981.65 1162.1h2.05v11.75h-2.05zM1952.1 1173.85h6.05v11.75h-6.05zM1969.9 1173.85h11.75v11.75h-11.75zM1958.15 1185.6h11.75v11.75h-11.75zM1981.65 1185.6h2.05v11.75h-2.05zM1952.1 1197.35h6.05v11.75h-6.05zM1969.9 1197.35h11.75v11.75h-11.75zM1958.15 1209.1h11.75v11.75h-11.75zM1981.65 1209.1h2.05v11.75h-2.05zM1952.1 1220.85h6.05v11.75h-6.05zM1969.9 1220.85h11.75v11.75h-11.75zM1958.15 1232.6h11.75v11.75h-11.75zM1981.65 1232.6h2.05v11.75h-2.05zM1952.1 1244.35h6.05v11.75h-6.05zM1969.9 1244.35h11.75v11.75h-11.75zM1958.15 1256.1h11.75v11.75h-11.75zM1981.65 1256.1h2.05v11.75h-2.05zM1952.1 1267.85h6.05v11.75h-6.05zM1969.9 1267.85h11.75v11.75h-11.75zM1958.15 1279.6h11.75v11.75h-11.75zM1981.65 1279.6h2.05v11.75h-2.05zM1952.1 1291.35h6.05v11.75h-6.05zM1969.9 1291.35h11.75v11.75h-11.75zM1958.15 1303.1h11.75v11.75h-11.75zM1981.65 1303.1h2.05v11.75h-2.05zM1952.1 1314.85h6.05v11.75h-6.05zM1969.9 1314.85h11.75v11.75h-11.75zM1958.15 1326.6h11.75v5.4h-11.75zM1981.65 1326.6h2.05v5.4h-2.05z"/>
</g>
<rect x="2038.4" y="267.6" width="28.7" height="6.4"/>
<rect x="2049.55" y="267.6" width="6.4" height="71.4"/>
<g>
<rect x="2022.4" y="337" width="57.6" height="1007"/>
<rect x="2035.2" y="349.8" width="32" height="982.2" fill="#fff"/>
<path d="M2054.1 349.8h13.1v17.7h-13.1zM2035.2 367.5h18.9v23.5h-18.9zM2054.1 391h13.1v23.5h-13.1zM2035.2 414.5h18.9v23.5h-18.9zM2054.1 438h13.1v23.5h-13.1zM2035.2 461.5h18.9v23.5h-18.9zM2054.1 485h13.1v23.5h-13.1zM2035.2 508.5h18.9v23.5h-18.9zM2054.1 532h13.1v23.5h-13.1zM2035.2 555.5h18.9v23.5h-18.9zM2054.1 579h13.1v23.5h-13.1zM2035.2 602.5h18.9v23.5h-18.9zM2054.1 626h13.1v23.5h-13.1zM2035.2 649.5h18.9v23.5h-18.9zM2054.1 673h13.1v23.5h-13.1zM2035.2 696.5h18.9v23.5h-18.9zM2054.1 720h13.1v23.5h-13.1zM2035.2 743.5h18.9v23.5h-18.9zM2054.1 767h13.1v23.5h-13.1zM2035.2 790.5h18.9v23.5h-18.9zM2054.1 814h13.1v23.5h-13.1zM2035.2 837.5h18.9v23.5h-18.9zM2054.1 861h13.1v23.5h-13.1zM2035.2 884.5h18.9v23.5h-18.9zM2054.1 908h13.1v23.5h-13.1zM2035.2 931.5h18.9v23.5h-18.9zM2054.1 955h13.1v23.5h-13.1zM2035.2 978.5h18.9v23.5h-18.9zM2054.1 1002h13.1v23.5h-13.1zM2035.2 1025.5h18.9v23.5h-18.9zM2054.1 1049h13.1v23.5h-13.1zM2035.2 1072.5h18.9v23.5h-18.9zM2054.1 1096h13.1v23.5h-13.1zM2035.2 1119.5h18.9v23.5h-18.9zM2054.1 1143h13.1v23.5h-13.1zM2035.2 1166.5h18.9v23.5h-18.9zM2054.1 1190h13.1v23.5h-13.1zM2035.2 1213.5h18.9v23.5h-18.9zM2054.1 1237h13.1v23.5h-13.1zM2035.2 1260.5h18.9v23.5h-18.9zM2054.1 1284h13.1v23.5h-13.1zM2035.2 1307.5h18.9v23.5h-18.9zM2054.1 1331h13.1v1h-13.1z"/>
</g>
<rect x="2121.9" y="623.3" width="28.7" height="6.4"/>
<rect x="2131.6" y="623.3" width="6.4" height="47.2"/>
<g>
<rect x="2106" y="668.5" width="57.2" height="675.5"/>
<rect x="2118.8" y="681.3" width="31.6" height="650.7" fill="#fff"/>
<path d="M2118.8 703.75h31.6v6.4h-31.6zM2118.8 739h31.6v6.4h-31.6zM2118.8 774.25h31.6v6.4h-31.6zM2118.8 809.5h31.6v6.4h-31.6zM2118.8 844.75h31.6v6.4h-31.6zM2118.8 880h31.6v6.4h-31.6zM2118.8 915.25h31.6v6.4h-31.6zM2118.8 950.5h31.6v6.4h-31.6zM2118.8 985.75h31.6v6.4h-31.6zM2118.8 1021h31.6v6.4h-31.6zM2118.8 1056.25h31.6v6.4h-31.6zM2118.8 1091.5h31.6v6.4h-31.6zM2118.8 1126.75h31.6v6.4h-31.6zM2118.8 1162h31.6v6.4h-31.6zM2118.8 1197.25h31.6v6.4h-31.6zM2118.8 1232.5h31.6v6.4h-31.6zM2118.8 1267.75h31.6v6.4h-31.6zM2118.8 1303h31.6v6.4h-31.6z"/>
</g>
<rect x="2202.2" y="869.5" width="28.7" height="6.4"/>
<rect x="2214.5" y="869.5" width="6.4" height="31.6"/>
<g>
<rect x="2189.2" y="899.1" width="57.3" height="444.9"/>
<rect x="2202" y="911.9" width="31.7" height="420.1" fill="#fff"/>
<path d="M2224.45 911.9h6.4v420.1h-6.4z"/>
</g>
<g>
<rect x="410.2" y="91.1" width="125.2" height="35"/>
<rect x="423" y="104.1" width="99.6" height="9.7" fill="#fff"/>
<path d="M427.25 104.1h11.75v5.75h-11.75zM450.75 104.1h11.75v5.75h-11.75zM474.25 104.1h11.75v5.75h-11.75zM497.75 104.1h11.75v5.75h-11.75zM521.25 104.1h1.35v5.75h-1.35zM423 109.85h4.25v3.95h-4.25zM439 109.85h11.75v3.95h-11.75zM462.5 109.85h11.75v3.95h-11.75zM486 109.85h11.75v3.95h-11.75zM509.5 109.85h11.75v3.95h-11.75z"/>
</g>
<g>
<rect x="410.2" y="194.6" width="125.2" height="37.2"/>
<rect x="423" y="209.4" width="99.6" height="9.9" fill="#fff"/>
<path d="M439 209.4h23.5v9.9h-23.5zM486 209.4h23.5v9.9h-23.5z"/>
</g>
<g>
<rect x="410.2" y="306.2" width="125.2" height="34.4"/>
<rect x="423" y="318.8" width="99.6" height="9.4" fill="#fff"/>
</g>
<g>
<rect x="410.2" y="408.8" width="125.2" height="37.6"/>
<rect x="423" y="421.3" width="99.6" height="10.7" fill="#fff"/>
<path d="M445.45 421.3h6.4v10.7h-6.4zM480.7 421.3h6.4v10.7h-6.4zM515.95 421.3h6.65v10.7h-6.65z"/>
</g>
</g>
<g>
<text x="307.8" y="84.8" font-size="90.5" text-anchor="end">1.0</text>
<text x="307.8" y="342.9" font-size="90.5" text-anchor="end">0.8</text>
<text x="307.8" y="600.9" font-size="90.5" text-anchor="end">0.6</text>
<text x="307.8" y="857.5" font-size="90.5" text-anchor="end">0.4</text>
<text x="307.8" y="1113.9" font-size="90.5" text-anchor="end">0.2</text>
<text x="307.8" y="1370.5" font-size="90.5" text-anchor="end">0.0</text>
<text x="547.3" y="1482" font-size="90.5" text-anchor="middle">1</text>
<text x="933.3" y="1482" font-size="90.5" text-anchor="middle">2</text>
<text x="1319" y="1482" font-size="90.5" text-anchor="middle">3</text>
<text x="1706.9" y="1482" font-size="90.5" text-anchor="middle">4</text>
<text x="2091.4" y="1482" font-size="90.5" text-anchor="middle">5</text>
<text x="1327" y="1630.6" font-size="96" text-anchor="middle" textLength="193" lengthAdjust="spacingAndGlyphs">days</text>
<text transform="translate(89.6 862.6) rotate(-90)" font-size="102">OD<tspan font-size="75" dx="-3.5" dy="22.6">450</tspan></text>
<text x="606" y="134.9" font-size="73" text-anchor="start" textLength="514" lengthAdjust="spacingAndGlyphs">Negative control</text>
<text x="610" y="238.6" font-size="73">PLGA/10%BG/4%TPE-NIM<tspan class="p" font-size="50" font-weight="normal" dx="-2" dy="-22">+</tspan></text>
<text x="610" y="349.7" font-size="73">PLGA/20%BG/4%TPE-NIM<tspan class="p" font-size="50" font-weight="normal" dx="-2" dy="-22">+</tspan></text>
<text x="610" y="452.9" font-size="73">PLGA/30%BG/4%TPE-NIM<tspan class="p" font-size="50" font-weight="normal" dx="-2" dy="-22">+</tspan></text>
</g>
</svg>
</body>
</html>
